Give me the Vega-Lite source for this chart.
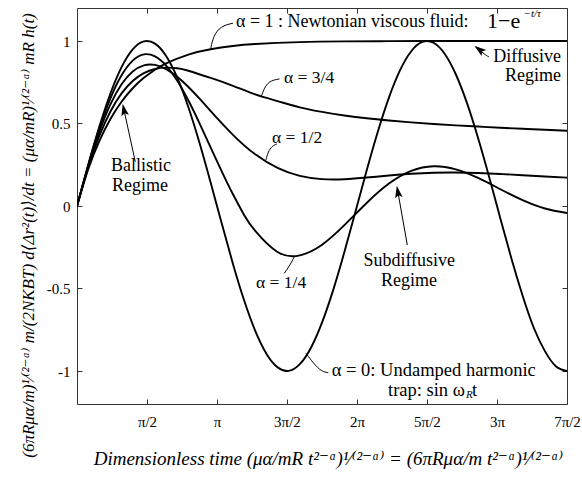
{
  "$schema": "https://vega.github.io/schema/vega-lite/v6.json",
  "width": 490,
  "height": 396,
  "autosize": {"type": "none"},
  "padding": {"left": 77, "top": 8, "right": 15, "bottom": 76},
  "background": "white",
  "config": {"view": {"stroke": "#333333", "strokeWidth": 1}, "font": "Liberation Serif"},
  "datasets": {
    "curves": [
      {"a":"0","t":0,"v":0},{"a":"0","t":0.25,"v":0.2474},{"a":"0","t":0.5,"v":0.4794},{"a":"0","t":0.75,"v":0.6816},{"a":"0","t":1,"v":0.8415},{"a":"0","t":1.25,"v":0.949},{"a":"0","t":1.5,"v":0.9975},{"a":"0","t":1.75,"v":0.984},{"a":"0","t":2,"v":0.9093},{"a":"0","t":2.25,"v":0.7781},{"a":"0","t":2.5,"v":0.5985},{"a":"0","t":2.75,"v":0.3817},{"a":"0","t":3,"v":0.1411},{"a":"0","t":3.25,"v":-0.1082},{"a":"0","t":3.5,"v":-0.3508},{"a":"0","t":3.75,"v":-0.5716},{"a":"0","t":4,"v":-0.7568},{"a":"0","t":4.25,"v":-0.895},{"a":"0","t":4.5,"v":-0.9775},{"a":"0","t":4.75,"v":-0.9993},{"a":"0","t":5,"v":-0.9589},{"a":"0","t":5.25,"v":-0.8589},{"a":"0","t":5.5,"v":-0.7055},{"a":"0","t":5.75,"v":-0.5083},{"a":"0","t":6,"v":-0.2794},{"a":"0","t":6.25,"v":-0.0332},{"a":"0","t":6.5,"v":0.2151},{"a":"0","t":6.75,"v":0.45},{"a":"0","t":7,"v":0.657},{"a":"0","t":7.25,"v":0.8231},{"a":"0","t":7.5,"v":0.938},{"a":"0","t":7.75,"v":0.9946},{"a":"0","t":8,"v":0.9894},{"a":"0","t":8.25,"v":0.9227},{"a":"0","t":8.5,"v":0.7985},{"a":"0","t":8.75,"v":0.6247},{"a":"0","t":9,"v":0.4121},{"a":"0","t":9.25,"v":0.1743},{"a":"0","t":9.5,"v":-0.0752},{"a":"0","t":9.75,"v":-0.3195},{"a":"0","t":10,"v":-0.544},{"a":"0","t":10.25,"v":-0.7379},{"a":"0","t":10.5,"v":-0.8797},{"a":"0","t":10.75,"v":-0.9723},{"a":"0","t":10.9956,"v":-1},
      {"a":"1/4","t":0,"v":0},{"a":"1/4","t":0.25,"v":0.245},{"a":"1/4","t":0.5,"v":0.4672},{"a":"1/4","t":0.75,"v":0.6526},{"a":"1/4","t":1,"v":0.7922},{"a":"1/4","t":1.25,"v":0.8812},{"a":"1/4","t":1.5,"v":0.9187},{"a":"1/4","t":1.75,"v":0.907},{"a":"1/4","t":2,"v":0.8514},{"a":"1/4","t":2.25,"v":0.7592},{"a":"1/4","t":2.5,"v":0.6392},{"a":"1/4","t":2.75,"v":0.5011},{"a":"1/4","t":3,"v":0.3542},{"a":"1/4","t":3.25,"v":0.2086},{"a":"1/4","t":3.5,"v":0.0709},{"a":"1/4","t":3.75,"v":-0.054},{"a":"1/4","t":4,"v":-0.1509},{"a":"1/4","t":4.5,"v":-0.2784},{"a":"1/4","t":5,"v":-0.299},{"a":"1/4","t":5.5,"v":-0.2345},{"a":"1/4","t":6,"v":-0.1162},{"a":"1/4","t":6.5,"v":0.0183},{"a":"1/4","t":7,"v":0.1358},{"a":"1/4","t":7.5,"v":0.2127},{"a":"1/4","t":8,"v":0.2412},{"a":"1/4","t":8.5,"v":0.2223},{"a":"1/4","t":9,"v":0.1699},{"a":"1/4","t":9.5,"v":0.1017},{"a":"1/4","t":10,"v":0.0355},{"a":"1/4","t":10.5,"v":-0.0151},{"a":"1/4","t":10.9956,"v":-0.0422},
      {"a":"1/2","t":0,"v":0},{"a":"1/2","t":0.25,"v":0.2408},{"a":"1/2","t":0.5,"v":0.4493},{"a":"1/2","t":0.75,"v":0.6159},{"a":"1/2","t":1,"v":0.7375},{"a":"1/2","t":1.25,"v":0.8151},{"a":"1/2","t":1.5,"v":0.8526},{"a":"1/2","t":1.75,"v":0.8554},{"a":"1/2","t":2,"v":0.83},{"a":"1/2","t":2.25,"v":0.783},{"a":"1/2","t":2.5,"v":0.721},{"a":"1/2","t":2.75,"v":0.6503},{"a":"1/2","t":3,"v":0.5754},{"a":"1/2","t":3.5,"v":0.4314},{"a":"1/2","t":4,"v":0.313},{"a":"1/2","t":4.5,"v":0.2308},{"a":"1/2","t":5,"v":0.1823},{"a":"1/2","t":5.5,"v":0.1627},{"a":"1/2","t":6,"v":0.1624},{"a":"1/2","t":6.5,"v":0.1723},{"a":"1/2","t":7,"v":0.1849},{"a":"1/2","t":7.5,"v":0.1955},{"a":"1/2","t":8,"v":0.2018},{"a":"1/2","t":8.5,"v":0.203},{"a":"1/2","t":9,"v":0.1999},{"a":"1/2","t":9.5,"v":0.1941},{"a":"1/2","t":10,"v":0.1867},{"a":"1/2","t":10.5,"v":0.1791},{"a":"1/2","t":10.9956,"v":0.1722},
      {"a":"3/4","t":0,"v":0},{"a":"3/4","t":0.25,"v":0.2333},{"a":"3/4","t":0.5,"v":0.4247},{"a":"3/4","t":0.75,"v":0.5731},{"a":"3/4","t":1,"v":0.6823},{"a":"3/4","t":1.25,"v":0.7578},{"a":"3/4","t":1.5,"v":0.8053},{"a":"3/4","t":1.75,"v":0.8305},{"a":"3/4","t":2,"v":0.8385},{"a":"3/4","t":2.25,"v":0.8349},{"a":"3/4","t":2.5,"v":0.8198},{"a":"3/4","t":3,"v":0.7763},{"a":"3/4","t":3.5,"v":0.7284},{"a":"3/4","t":4,"v":0.6761},{"a":"3/4","t":4.5,"v":0.6357},{"a":"3/4","t":5,"v":0.598},{"a":"3/4","t":5.5,"v":0.5704},{"a":"3/4","t":6,"v":0.5488},{"a":"3/4","t":6.5,"v":0.5317},{"a":"3/4","t":7,"v":0.5183},{"a":"3/4","t":7.5,"v":0.5068},{"a":"3/4","t":8,"v":0.4973},{"a":"3/4","t":8.5,"v":0.4889},{"a":"3/4","t":9,"v":0.4814},{"a":"3/4","t":9.5,"v":0.4744},{"a":"3/4","t":10,"v":0.4679},{"a":"3/4","t":10.5,"v":0.4619},{"a":"3/4","t":10.9956,"v":0.4562},
      {"a":"1","t":0,"v":0},{"a":"1","t":0.25,"v":0.2212},{"a":"1","t":0.5,"v":0.3935},{"a":"1","t":0.75,"v":0.5276},{"a":"1","t":1,"v":0.6321},{"a":"1","t":1.25,"v":0.7135},{"a":"1","t":1.5,"v":0.7769},{"a":"1","t":1.75,"v":0.8262},{"a":"1","t":2,"v":0.8647},{"a":"1","t":2.5,"v":0.9179},{"a":"1","t":3,"v":0.9502},{"a":"1","t":3.5,"v":0.9698},{"a":"1","t":4,"v":0.9817},{"a":"1","t":5,"v":0.9933},{"a":"1","t":6,"v":0.9975},{"a":"1","t":7,"v":0.9991},{"a":"1","t":8,"v":0.9997},{"a":"1","t":9,"v":0.9999},{"a":"1","t":10,"v":1},{"a":"1","t":10.9956,"v":1}
    ],
    "leaders": [
      {"id":"a1","k":0,"t":3.0,"v":0.952},{"id":"a1","k":1,"t":3.06,"v":1.03},{"id":"a1","k":2,"t":3.22,"v":1.09},{"id":"a1","k":3,"t":3.5,"v":1.108},
      {"id":"a34","k":0,"t":4.14,"v":0.667},{"id":"a34","k":1,"t":4.219,"v":0.727},{"id":"a34","k":2,"t":4.353,"v":0.761},{"id":"a34","k":3,"t":4.544,"v":0.77},
      {"id":"a12","k":0,"t":4.241,"v":0.279},{"id":"a12","k":1,"t":4.286,"v":0.327},{"id":"a12","k":2,"t":4.376,"v":0.364},{"id":"a12","k":3,"t":4.488,"v":0.376},
      {"id":"a14","k":0,"t":4.878,"v":-0.307},{"id":"a14","k":1,"t":4.78,"v":-0.358},{"id":"a14","k":2,"t":4.652,"v":-0.408},
      {"id":"a0","k":0,"t":5.139,"v":-0.893},{"id":"a0","k":1,"t":5.303,"v":-0.953},{"id":"a0","k":2,"t":5.491,"v":-1.004},{"id":"a0","k":3,"t":5.639,"v":-1.01}
    ],
    "arrows": [
      {"id":"ball","k":0,"t":1.308,"v":0.268},{"id":"ball","k":1,"t":1.057,"v":0.579},
      {"id":"diff","k":0,"t":9.245,"v":0.903},{"id":"diff","k":1,"t":9.133,"v":0.921},{"id":"diff","k":2,"t":9.039,"v":0.946},
      {"id":"sub","k":0,"t":7.412,"v":-0.236},{"id":"sub","k":1,"t":7.203,"v":0.082}
    ],
    "heads": [
      {"id":"ball","t":1.057,"v":0.579},
      {"id":"diff","t":9.039,"v":0.946},
      {"id":"sub","t":7.203,"v":0.082}
    ],
    "alphaOne": [
      {"t":3.568,"v":1.117,"label":"α = 1 : Newtonian viscous fluid:"}
    ],
    "labelsSmall": [
      {"t":4.645,"v":0.776,"label":"α = 3/4"},
      {"t":4.376,"v":0.412,"label":"α = 1/2"},
      {"t":4.017,"v":-0.469,"label":"α = 1/4"}
    ],
    "labelsLeft": [
      {"t":5.716,"v":-0.994,"label":"α = 0: Undamped harmonic"},
      {"t":6.979,"v":-1.115,"label":"trap: sin ω"},
      {"t":8.864,"v":-1.115,"label":"t"}
    ],
    "labelsCenter": [
      {"t":1.436,"v":0.2409,"label":"Ballistic"},
      {"t":1.414,"v":0.1227,"label":"Regime"},
      {"t":7.455,"v":-0.3339,"label":"Subdiffusive"},
      {"t":7.45,"v":-0.4521,"label":"Regime"}
    ],
    "labelsRight": [
      {"t":10.861,"v":0.9036,"label":"Diffusive"},
      {"t":10.861,"v":0.7855,"label":"Regime"}
    ],
    "bigMath": [
      {"t":9.2,"v":1.12,"label":"1−e"}
    ],
    "smallMath": [
      {"t":10.02,"v":1.164,"label":"−t/τ"},
      {"t":8.729,"v":-1.145,"label":"R"}
    ]
  },
  "resolve": {"axis": {"x": "independent", "y": "independent"}},
  "layer": [
    {
      "mark": {"type": "rule", "color": "#aaaaaa", "strokeWidth": 1.5},
      "encoding": {
        "y": {"datum": 0, "type": "quantitative", "scale": {"domain": [-1.2, 1.2], "nice": false, "zero": false}, "axis": null}
      }
    },
    {
      "data": {"name": "curves"},
      "mark": {"type": "line", "color": "black", "strokeWidth": 1.9, "interpolate": "natural", "clip": true},
      "encoding": {
        "x": {"field": "t", "type": "quantitative", "scale": {"domain": [0, 10.9956], "nice": false, "zero": false},
          "axis": {"orient": "bottom", "values": [1.5708, 3.14159, 4.71239, 6.28319, 7.85398, 9.42478, 10.9956],
            "labelExpr": "['0','π/2','π','3π/2','2π','5π/2','3π','7π/2'][round(datum.value/1.5707963)]",
            "tickSize": -5, "tickColor": "#333333", "domain": false, "grid": false,
            "labelPadding": 15, "labelFontSize": 15, "labelFont": "Liberation Serif", "labelColor": "black",
            "labelFlush": false, "labelOverlap": false, "labelBound": false,
            "title": "Dimensionless time (μα/mR t²⁻ᵅ)¹⁄⁽²⁻ᵅ⁾ = (6πRμα/m t²⁻ᵅ)¹⁄⁽²⁻ᵅ⁾",
            "titleFont": "Liberation Serif, DejaVu Serif", "titleFontSize": 19, "titleFontStyle": "italic", "titleFontWeight": "normal",
            "titleColor": "black", "titleBaseline": "middle", "titleY": 54, "titleX": 251}},
        "y": {"field": "v", "type": "quantitative", "scale": {"domain": [-1.2, 1.2], "nice": false, "zero": false},
          "axis": {"orient": "left", "values": [-1, -0.5, 0, 0.5, 1], "labelExpr": "'' + datum.value",
            "tickSize": -5, "tickColor": "#333333", "domain": false, "grid": false,
            "labelPadding": 12, "labelFontSize": 15, "labelFont": "Liberation Serif", "labelColor": "black",
            "labelOverlap": false, "labelBound": false,
            "title": "(6πRμα/m)¹⁄⁽²⁻ᵅ⁾  m/(2NKBT)  d⟨Δr²(t)⟩/dt  =  (μα/mR)¹⁄⁽²⁻ᵅ⁾ mR h(t)",
            "titleFont": "Liberation Serif, DejaVu Serif", "titleFontSize": 17, "titleFontStyle": "italic", "titleFontWeight": "normal",
            "titleColor": "black", "titleAngle": 270, "titleBaseline": "middle", "titleAlign": "center", "titleX": -49, "titleY": 227}},
        "detail": {"field": "a", "type": "nominal"}
      }
    },
    {
      "data": {"name": "leaders"},
      "mark": {"type": "line", "color": "black", "strokeWidth": 1, "interpolate": "basis"},
      "encoding": {
        "x": {"field": "t", "type": "quantitative", "scale": {"domain": [0, 10.9956], "nice": false, "zero": false},
          "axis": {"orient": "top", "values": [1.5708, 3.14159, 4.71239, 6.28319, 7.85398, 9.42478, 10.9956], "labels": false,
            "tickSize": -5, "tickColor": "#333333", "domain": false, "grid": false, "title": null}},
        "y": {"field": "v", "type": "quantitative", "scale": {"domain": [-1.2, 1.2], "nice": false, "zero": false},
          "axis": {"orient": "right", "values": [-1, -0.5, 0, 0.5, 1], "labels": false,
            "tickSize": -5, "tickColor": "#333333", "domain": false, "grid": false, "title": null}},
        "detail": {"field": "id", "type": "nominal"},
        "order": {"field": "k", "type": "quantitative"}
      }
    },
    {
      "data": {"name": "arrows"},
      "mark": {"type": "line", "color": "black", "strokeWidth": 1, "interpolate": "basis"},
      "encoding": {
        "x": {"field": "t", "type": "quantitative", "axis": null},
        "y": {"field": "v", "type": "quantitative", "axis": null},
        "detail": {"field": "id", "type": "nominal"},
        "order": {"field": "k", "type": "quantitative"}
      }
    },
    {
      "data": {"name": "heads"},
      "transform": [{"filter": "datum.id === 'ball'"}],
      "mark": {"type": "point", "shape": "M0,-1L0.55,0.75L0,0.4L-0.55,0.75Z", "filled": true, "color": "black", "opacity": 1, "size": 190, "angle": 348},
      "encoding": {"x": {"field": "t", "type": "quantitative", "axis": null}, "y": {"field": "v", "type": "quantitative", "axis": null}}
    },
    {
      "data": {"name": "heads"},
      "transform": [{"filter": "datum.id === 'diff'"}],
      "mark": {"type": "point", "shape": "M0,-1L0.55,0.75L0,0.4L-0.55,0.75Z", "filled": true, "color": "black", "opacity": 1, "size": 190, "angle": 307},
      "encoding": {"x": {"field": "t", "type": "quantitative", "axis": null}, "y": {"field": "v", "type": "quantitative", "axis": null}}
    },
    {
      "data": {"name": "heads"},
      "transform": [{"filter": "datum.id === 'sub'"}],
      "mark": {"type": "point", "shape": "M0,-1L0.55,0.75L0,0.4L-0.55,0.75Z", "filled": true, "color": "black", "opacity": 1, "size": 190, "angle": 350},
      "encoding": {"x": {"field": "t", "type": "quantitative", "axis": null}, "y": {"field": "v", "type": "quantitative", "axis": null}}
    },
    {
      "data": {"name": "alphaOne"},
      "mark": {"type": "text", "align": "left", "baseline": "middle", "font": "Liberation Serif", "fontSize": 18, "color": "black"},
      "encoding": {"x": {"field": "t", "type": "quantitative", "axis": null}, "y": {"field": "v", "type": "quantitative", "axis": null}, "text": {"field": "label"}}
    },
    {
      "data": {"name": "labelsSmall"},
      "mark": {"type": "text", "align": "left", "baseline": "middle", "font": "Liberation Serif", "fontSize": 17.5, "color": "black"},
      "encoding": {"x": {"field": "t", "type": "quantitative", "axis": null}, "y": {"field": "v", "type": "quantitative", "axis": null}, "text": {"field": "label"}}
    },
    {
      "data": {"name": "labelsLeft"},
      "mark": {"type": "text", "align": "left", "baseline": "middle", "font": "Liberation Serif", "fontSize": 18.5, "color": "black"},
      "encoding": {"x": {"field": "t", "type": "quantitative", "axis": null}, "y": {"field": "v", "type": "quantitative", "axis": null}, "text": {"field": "label"}}
    },
    {
      "data": {"name": "labelsCenter"},
      "mark": {"type": "text", "align": "center", "baseline": "middle", "font": "Liberation Serif", "fontSize": 18, "color": "black"},
      "encoding": {"x": {"field": "t", "type": "quantitative", "axis": null}, "y": {"field": "v", "type": "quantitative", "axis": null}, "text": {"field": "label"}}
    },
    {
      "data": {"name": "labelsRight"},
      "mark": {"type": "text", "align": "right", "baseline": "middle", "font": "Liberation Serif", "fontSize": 18, "color": "black"},
      "encoding": {"x": {"field": "t", "type": "quantitative", "axis": null}, "y": {"field": "v", "type": "quantitative", "axis": null}, "text": {"field": "label"}}
    },
    {
      "data": {"name": "bigMath"},
      "mark": {"type": "text", "align": "left", "baseline": "middle", "font": "Liberation Serif", "fontSize": 22, "color": "black"},
      "encoding": {"x": {"field": "t", "type": "quantitative", "axis": null}, "y": {"field": "v", "type": "quantitative", "axis": null}, "text": {"field": "label"}}
    },
    {
      "data": {"name": "smallMath"},
      "mark": {"type": "text", "align": "left", "baseline": "middle", "font": "Liberation Serif", "fontSize": 11, "fontStyle": "italic", "color": "black"},
      "encoding": {"x": {"field": "t", "type": "quantitative", "axis": null}, "y": {"field": "v", "type": "quantitative", "axis": null}, "text": {"field": "label"}}
    }
  ]
}
